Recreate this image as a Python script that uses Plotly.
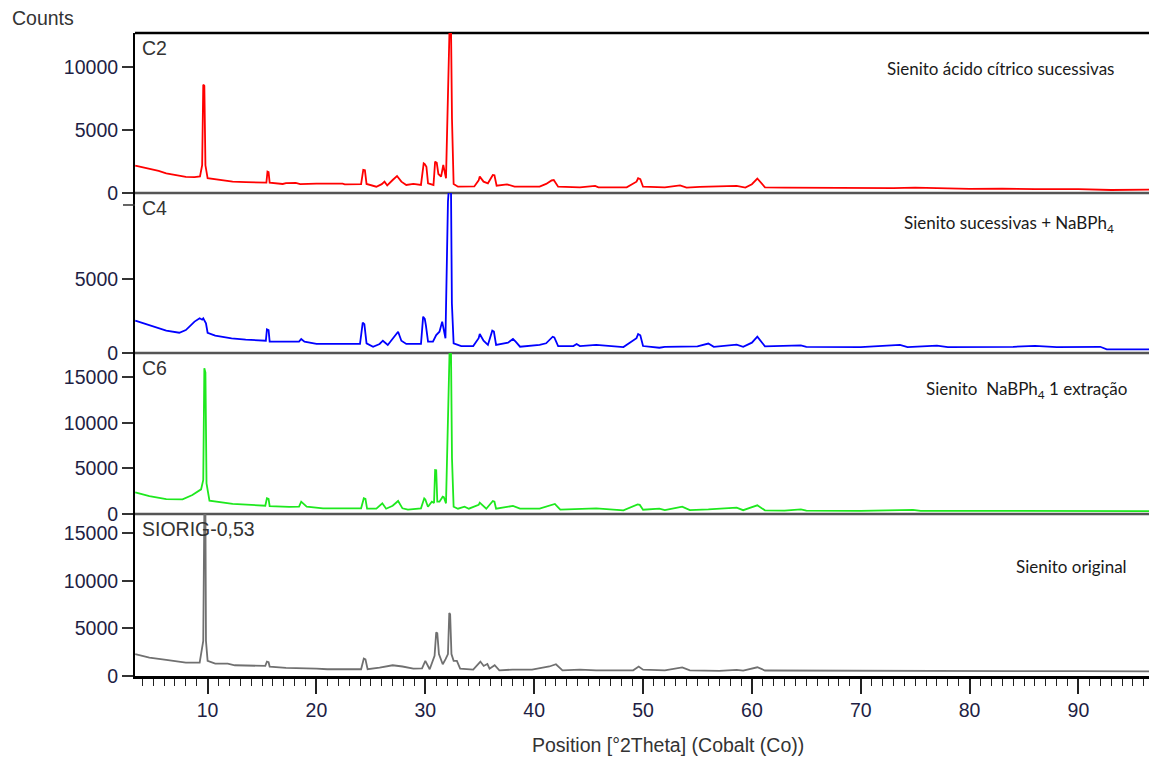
import plotly.graph_objects as go
from plotly.subplots import make_subplots

# ---------------- data (2theta in degrees, intensity in counts) ----------------
c2_x = [3.35, 4.0, 4.65, 5.5, 6.2, 7.0, 8.0, 8.8, 9.3, 9.5, 9.6, 9.7, 9.8, 10.0, 11.0, 12.3, 13.5, 14.5,
        15.4, 15.5, 15.6, 15.7, 16.9, 17.2, 18.1, 18.5, 20.0, 22.4, 22.6, 24.1, 24.3, 24.45, 24.6, 25.5,
        26.0, 26.25, 26.5, 27.0, 27.4, 27.8, 28.25, 28.9, 29.6, 29.85, 29.95, 30.1, 30.25, 30.75, 30.9,
        31.05, 31.2, 31.45, 31.65, 31.9, 32.1, 32.25, 32.35, 32.45, 32.6, 33.0, 34.5, 34.9, 35.0, 35.35,
        35.75, 36.2, 36.35, 36.55, 37.5, 38.2, 40.5, 41.1, 41.6, 41.8, 42.2, 44.2, 45.6, 45.9, 48.5,
        49.4, 49.55, 49.75, 50.0, 51.5, 52.0, 53.4, 54.0, 55.2, 58.6, 59.4, 60.0, 60.5, 61.2, 63.0,
        67.0, 70.0, 73.0, 75.0, 80.0, 83.0, 86.0, 90.0, 93.0, 96.5]
c2_y = [2170, 2050, 1960, 1750, 1560, 1420, 1280, 1260, 1320, 2200, 8600, 8500, 2200, 1170, 1030, 900, 870, 830,
        820, 1690, 1650, 820, 715, 780, 800, 700, 740, 740, 690, 700, 1830, 1800, 720, 500,
        700, 900, 600, 1030, 1350, 900, 640, 720, 640, 2360, 2300, 2090, 770, 640, 2490,
        2400, 1510, 1300, 2220, 1170, 9900, 14000, 14000, 5880, 720, 500, 520, 1000, 1300, 900,
        770, 1430, 1400, 580, 690, 500, 500, 720, 1000, 1030, 500, 450, 560, 450, 450,
        900, 1170, 1100, 500, 450, 450, 600, 430, 480, 560, 430, 700, 1150, 450, 420,
        400, 420, 380, 420, 330, 350, 300, 300, 240, 260]

c4_x = [3.35, 4.65, 5.5, 6.2, 7.4, 8.0, 8.8, 9.27, 9.5, 9.6, 9.85, 10.0, 10.7, 12.2, 13.5, 14.7, 15.35,
        15.45, 15.6, 15.7, 17.2, 18.4, 18.6, 18.9, 20.0, 24.0, 24.25, 24.4, 24.6, 25.2, 25.8, 26.1,
        26.55, 27.0, 27.5, 27.8, 28.25, 29.6, 29.8, 29.95, 30.05, 30.25, 30.7, 31.0, 31.3, 31.55,
        31.65, 31.85, 32.08, 32.25, 32.35, 32.44, 32.6, 33.3, 34.4, 34.9, 35.0, 35.35, 35.75, 36.15,
        36.3, 36.5, 37.6, 38.05, 38.3, 38.7, 40.5, 41.1, 41.7, 41.85, 42.2, 43.6, 43.9, 44.2, 45.7,
        48.2, 49.4, 49.55, 49.75, 50.0, 51.5, 52.0, 55.0, 56.0, 56.5, 58.6, 59.2, 60.0, 60.5, 61.2,
        64.5, 65.0, 70.0, 73.6, 74.3, 77.0, 78.0, 84.0, 86.0, 88.0, 92.0, 92.6, 96.5]
c4_y = [2180, 1890, 1700, 1510, 1370, 1550, 2120, 2345, 2250, 2345, 2000, 1370, 1170, 990, 900, 830, 830,
        1600, 1550, 765, 765, 770, 945, 760, 610, 610, 2050, 1950, 655, 425, 610, 830,
        545, 990, 1440, 830, 610, 610, 2455, 2300, 1890, 765, 765, 1215, 1440, 2120,
        1800, 990, 10230, 12000, 12000, 3360, 655, 470, 470, 1000, 1285, 830, 545, 1510,
        1450, 545, 700, 945, 765, 425, 545, 655, 1100, 1050, 470, 470, 610, 470, 545,
        400, 1000, 1285, 1200, 470, 355, 420, 450, 640, 420, 560, 420, 700, 1100, 450,
        520, 420, 400, 550, 400, 500, 400, 420, 480, 400, 420, 250, 250]

c6_x = [3.35, 4.65, 6.2, 7.7, 8.6, 9.4, 9.6, 9.7, 9.8, 9.9, 10.17, 12.3, 15.3, 15.45, 15.6, 15.7, 17.5,
        18.4, 18.6, 18.8, 19.1, 20.6, 24.1, 24.35, 24.5, 24.65, 25.5, 26.05, 26.4, 27.0, 27.5, 27.9,
        28.4, 29.6, 29.9, 30.0, 30.24, 30.6, 30.8, 30.9, 31.0, 31.1, 31.3, 31.6, 31.7, 31.9, 32.15,
        32.25, 32.35, 32.45, 32.6, 33.0, 33.6, 34.0, 34.9, 35.0, 35.6, 36.2, 36.35, 36.5, 38.05, 38.7,
        40.5, 41.9, 42.4, 45.7, 48.2, 49.5, 49.7, 50.0, 51.5, 52.0, 53.6, 54.3, 56.0, 58.6, 59.2,
        60.5, 61.2, 63.0, 64.5, 65.0, 70.0, 73.6, 74.8, 75.5, 80.0, 90.0, 96.5]
c6_y = [2380, 1970, 1640, 1610, 2080, 2700, 3730, 15970, 15500, 3360, 1460, 1100, 910, 1720, 1650, 870, 780,
        800, 1350, 1100, 800, 620, 620, 1720, 1650, 580, 580, 1170, 580, 900, 1425, 620,
        470, 620, 1720, 1600, 800, 1350, 1200, 4820, 4800, 1350, 1350, 1900, 1850, 1170, 14140,
        19000, 19000, 6100, 800, 580, 800, 580, 1000, 1240, 580, 1425, 1350, 580, 880, 580,
        580, 1100, 470, 620, 400, 1060, 1000, 470, 580, 420, 800, 420, 500, 700, 420,
        950, 400, 380, 500, 360, 350, 480, 460, 350, 330, 320, 320]

so_x = [3.35, 4.65, 6.2, 8.0, 9.27, 9.45, 9.6, 9.7, 9.8, 9.85, 10.0, 10.7, 11.85, 12.5, 15.3, 15.45, 15.6,
        15.7, 17.2, 20.0, 21.0, 24.1, 24.35, 24.5, 24.7, 25.8, 27.0, 27.9, 28.9, 29.7, 30.0, 30.4,
        30.85, 31.0, 31.1, 31.25, 31.6, 31.86, 32.08, 32.2, 32.28, 32.4, 32.6, 32.9, 33.2, 34.4,
        35.06, 35.36, 35.7, 35.9, 36.37, 36.8, 38.0, 39.8, 41.4, 42.0, 42.6, 44.2, 45.7, 49.1, 49.6,
        50.0, 51.5, 52.0, 53.6, 54.3, 57.0, 58.6, 59.2, 60.5, 61.2, 65.0, 70.0, 80.0, 82.0, 85.0,
        90.0, 93.0, 96.5]
so_y = [2300, 1940, 1700, 1410, 1410, 2470, 3700, 17500, 17500, 3700, 1590, 1300, 1300, 1130, 1060, 1520, 1450,
        990, 850, 775, 710, 710, 1830, 1750, 710, 880, 1130, 1000, 775, 800, 1590, 710,
        2120, 4590, 4500, 2300, 1240, 1770, 2300, 6640, 6500, 2300, 1590, 1590, 775, 670,
        1520, 1060, 1270, 775, 1130, 600, 670, 670, 1000, 1240, 600, 670, 600, 600, 1000,
        670, 640, 600, 900, 600, 540, 650, 560, 920, 580, 560, 540, 520, 480, 520,
        520, 500, 480]

panel_names = ["C2", "C4", "C6", "SIORIG-0,53"]
panel_notes = ["Sienito ácido cítrico sucessivas",
               "Sienito sucessivas + NaBPh<sub>4</sub>",
               "Sienito&nbsp; NaBPh<sub>4</sub> 1 extração",
               "Sienito original"]
y_ranges = [[0, 12700], [0, 10810], [0, 17650], [0, 17050]]
y_ticks = [[0, 5000, 10000], [0, 5000], [0, 5000, 10000, 15000], [0, 5000, 10000, 15000]]
y_unlabeled_ticks = [[], [10000], [], []]
x_range = [3.33, 96.48]
x_title = "Position [°2Theta] (Cobalt (Co))"
y_title = "Counts"

# ---------------- styling / layout ----------------
series = [(c2_x, c2_y, "#ff0000"), (c4_x, c4_y, "#0000ff"), (c6_x, c6_y, "#1ee81e"), (so_x, so_y, "#707070")]
W, H = 1149, 760
L, T, B = 135, 33, 84
plot_h = H - T - B
bounds_px = [33, 193, 353, 514, 676]
dom = [[1 - (bounds_px[i + 1] - T) / plot_h, 1 - (bounds_px[i] - T) / plot_h] for i in range(4)]
dom[3][0] = 0.0
dom[0][1] = 1.0

fig = make_subplots(rows=4, cols=1, shared_xaxes=True, vertical_spacing=0)
tick_font = dict(family="Liberation Sans, Arial, sans-serif", size=19.5, color="#1e1e44")
TICKLEN = 11

shapes = [dict(type="line", xref="paper", yref="paper", x0=0, x1=1, y0=1, y1=1,
               line=dict(color="black", width=2.5), layer="below")]

for i, (xs, ys, col) in enumerate(series):
    fig.add_trace(go.Scatter(x=xs, y=ys, mode="lines", line=dict(color=col, width=1.8),
                             showlegend=False, hoverinfo="skip"), row=i + 1, col=1)
    fig.update_yaxes(row=i + 1, col=1, domain=dom[i], range=y_ranges[i], tickvals=y_ticks[i],
                     tickformat="d", showline=True, linecolor="black", linewidth=2,
                     ticks="outside", ticklen=TICKLEN, tickwidth=1.5, tickcolor="#333",
                     showgrid=False, zeroline=False, tickfont=tick_font, fixedrange=True)
    fig.update_xaxes(row=i + 1, col=1, range=x_range, showgrid=False, zeroline=False)
    # tick marks without label (label hidden in the reference), placed via the axis scale
    for v in y_unlabeled_ticks[i]:
        frac = (v - y_ranges[i][0]) / (y_ranges[i][1] - y_ranges[i][0])
        yp = dom[i][0] + frac * (dom[i][1] - dom[i][0])
        shapes.append(dict(type="line", xref="paper", yref="paper", x0=-(TICKLEN + 1) / (W - L), x1=0,
                           y0=yp, y1=yp, line=dict(color="#333", width=1.5)))

for i in range(3):
    fig.update_xaxes(row=i + 1, col=1, showticklabels=False, ticks="", showline=False)

fig.update_xaxes(row=4, col=1, showline=True, linecolor="black", linewidth=2.5,
                 ticks="outside", ticklen=15, tickwidth=1.5, tickcolor="#222",
                 tick0=0, dtick=10, tickfont=tick_font,
                 minor=dict(ticks="outside", ticklen=7, dtick=1, tickcolor="#222", tickwidth=1.3))

for i in range(3):
    yb = dom[i][0]
    shapes.append(dict(type="line", xref="paper", yref="paper", x0=0, x1=1, y0=yb, y1=yb,
                       line=dict(color="#555555", width=2.5), layer="below"))

label_font = dict(family="Liberation Sans, Arial, sans-serif", size=19.5, color="#333333")
note_font = dict(family="Lato, Open Sans, sans-serif", size=17, color="#1a1a1a")
note_right_px = [1116, 1116, 1129, 1129]
note_y_px = [68, 224, 390, 566]
annotations = []
for i in range(4):
    annotations.append(dict(text=panel_names[i], xref="paper", yref="paper",
                            x=(140 - L) / (W - L), y=dom[i][1] - 2 / plot_h,
                            xanchor="left", yanchor="top", showarrow=False, font=label_font))
    annotations.append(dict(text=panel_notes[i], xref="paper", yref="paper",
                            x=(note_right_px[i] - L) / (W - L), y=1 - (note_y_px[i] - T) / plot_h,
                            xanchor="right", yanchor="middle", showarrow=False, font=note_font))
annotations.append(dict(text=y_title, xref="paper", yref="paper", x=(10 - L) / (W - L),
                        y=1 + (T - 18) / plot_h, xanchor="left", yanchor="middle",
                        showarrow=False, font=label_font))
annotations.append(dict(text=x_title, xref="paper", yref="paper", x=(668 - L) / (W - L),
                        y=-(745 - 676) / plot_h, xanchor="center", yanchor="middle",
                        showarrow=False, font=label_font))

fig.update_layout(width=W, height=H, margin=dict(l=L, r=0, t=T, b=B),
                  paper_bgcolor="white", plot_bgcolor="white",
                  shapes=shapes, annotations=annotations)

fig.write_html("out.html", config={"displayModeBar": False},
               post_script="document.body.style.margin='0px';document.body.style.overflow='hidden';")
